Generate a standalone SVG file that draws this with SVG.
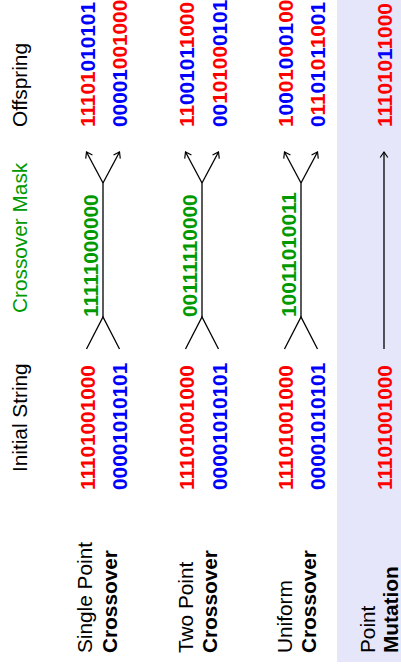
<svg xmlns="http://www.w3.org/2000/svg" width="401" height="670" viewBox="0 0 401 670">
  <defs>
    <style>
      text { font-family: "Liberation Sans", Arial, Helvetica, sans-serif; font-size: 20.8px; }
      .bits { font-weight: bold; }
      .bold { font-weight: bold; }
      .r { fill: #ff0000; }
      .b { fill: #0000ff; }
      .g { fill: #009900; }
      .k { fill: #000000; }
      .wire { fill: none; stroke: #000; stroke-width: 1.3; stroke-linejoin: miter; }
    </style>
    <marker id="arrow" viewBox="-7 -5 9 10" markerWidth="9" markerHeight="10" refX="0" refY="0" orient="auto" markerUnits="userSpaceOnUse">
      <path d="M-5.5,-3.8 L0,0 L-5.5,3.8" fill="none" stroke="#000" stroke-width="1.2"/>
    </marker>
  </defs>

  <!-- mutation band -->
  <rect x="337" y="0" width="64" height="662" fill="#e6e6fa"/>

  <!-- the whole table is laid out left-to-right, then turned a quarter turn -->
  <g transform="translate(0,670) rotate(-90)">

    <!-- column headers -->
    <g id="header-initial"><text class="k" x="198" y="27">Initial String</text></g>
    <g id="header-mask"><text class="g" x="357" y="27">Crossover Mask</text></g>
    <g id="header-offspring"><text class="k" x="543" y="27">Offspring</text></g>

    <!-- row labels -->
    <g id="label-single">
      <text class="k" x="17" y="92">Single Point</text>
      <text class="k bold" x="17" y="117">Crossover</text>
    </g>
    <g id="label-two">
      <text class="k" x="17" y="193">Two Point</text>
      <text class="k bold" x="17" y="217">Crossover</text>
    </g>
    <g id="label-uniform">
      <text class="k" x="17" y="292">Uniform</text>
      <text class="k bold" x="17" y="316">Crossover</text>
    </g>
    <g id="label-mutation">
      <text class="k" x="17" y="375">Point</text>
      <text class="k bold" x="17" y="398">Mutation</text>
    </g>

    <!-- parent strings -->
    <g id="parents-single">
      <text class="bits r" x="180" y="95">11101001000</text>
      <text class="bits b" x="180" y="127">00001010101</text>
    </g>
    <g id="parents-two">
      <text class="bits r" x="180" y="194">11101001000</text>
      <text class="bits b" x="180" y="227">00001010101</text>
    </g>
    <g id="parents-uniform">
      <text class="bits r" x="180" y="293">11101001000</text>
      <text class="bits b" x="180" y="325">00001010101</text>
    </g>
    <g id="parent-mutation">
      <text class="bits r" x="180" y="392">11101001000</text>
    </g>

    <!-- masks -->
    <g id="mask-single"><text class="bits g" x="353" y="98">11111000000</text></g>
    <g id="mask-two"><text class="bits g" x="353" y="197">00111110000</text></g>
    <g id="mask-uniform"><text class="bits g" x="353" y="296">10011010011</text></g>

    <!-- offspring -->
    <g id="offspring-single">
      <text class="bits" x="543" y="95"><tspan class="r">11101</tspan><tspan class="b">010101</tspan></text>
      <text class="bits" x="543" y="127"><tspan class="b">00001</tspan><tspan class="r">001000</tspan></text>
    </g>
    <g id="offspring-two">
      <text class="bits" x="543" y="194"><tspan class="r">11</tspan><tspan class="b">00101</tspan><tspan class="r">1000</tspan></text>
      <text class="bits" x="543" y="227"><tspan class="b">00</tspan><tspan class="r">10100</tspan><tspan class="b">0101</tspan></text>
    </g>
    <g id="offspring-uniform">
      <text class="bits" x="543" y="293"><tspan class="r">1</tspan><tspan class="b">00</tspan><tspan class="r">01</tspan><tspan class="b">0</tspan><tspan class="r">0</tspan><tspan class="b">01</tspan><tspan class="r">00</tspan></text>
      <text class="bits" x="543" y="325"><tspan class="b">0</tspan><tspan class="r">11</tspan><tspan class="b">01</tspan><tspan class="r">0</tspan><tspan class="b">1</tspan><tspan class="r">10</tspan><tspan class="b">01</tspan></text>
    </g>
    <g id="offspring-mutation">
      <text class="bits" x="543" y="392"><tspan class="r">111010</tspan><tspan class="b">1</tspan><tspan class="r">1000</tspan></text>
    </g>

    <!-- connectors -->
    <g id="connectors" class="wire">
      <path d="M321,86.5 L353,103 L321,119.5"/>
      <path d="M353,103 L487,103"/>
      <path d="M487,103 L518,86.5" marker-end="url(#arrow)"/>
      <path d="M487,103 L518,119.5" marker-end="url(#arrow)"/>

      <path d="M321,185.5 L353,202 L321,218.5"/>
      <path d="M353,202 L487,202"/>
      <path d="M487,202 L518,185.5" marker-end="url(#arrow)"/>
      <path d="M487,202 L518,218.5" marker-end="url(#arrow)"/>

      <path d="M321,284.5 L353,301 L321,317.5"/>
      <path d="M353,301 L487,301"/>
      <path d="M487,301 L518,284.5" marker-end="url(#arrow)"/>
      <path d="M487,301 L518,317.5" marker-end="url(#arrow)"/>

      <path d="M321,384 L518,384" marker-end="url(#arrow)"/>
    </g>
  </g>
</svg>
